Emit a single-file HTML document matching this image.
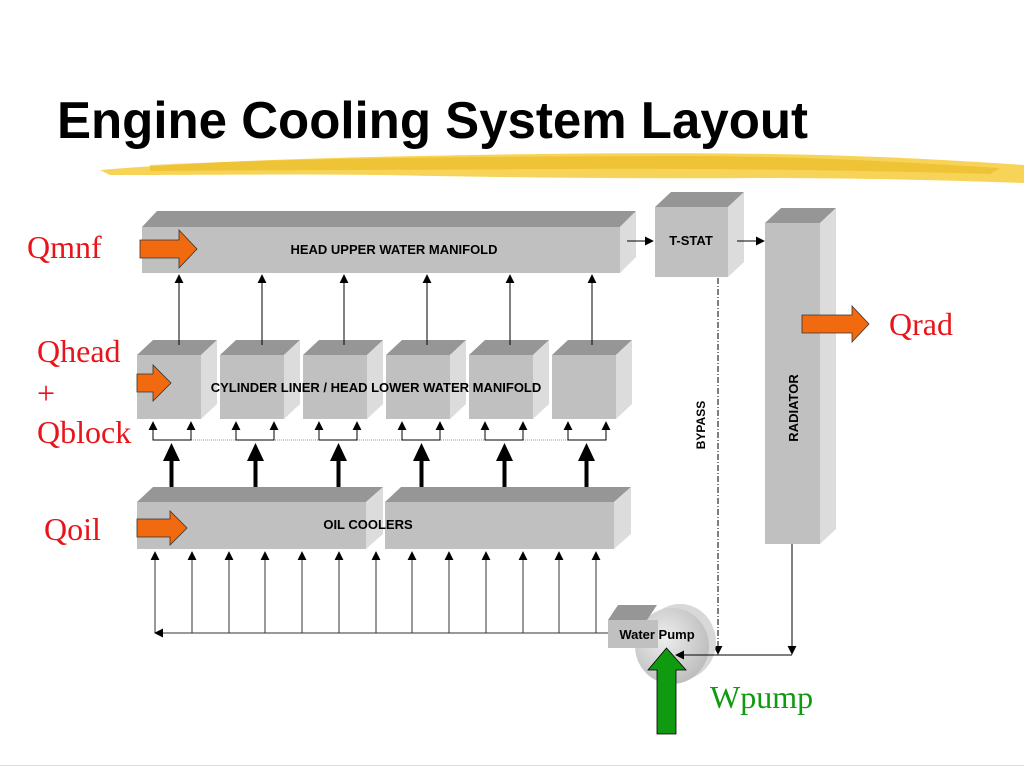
<!DOCTYPE html>
<html><head><meta charset="utf-8"><style>
html,body{margin:0;padding:0;background:#fff;}
svg{display:block;}
.b{font-family:"Liberation Sans",Arial,sans-serif;font-weight:bold;fill:#000;}
.r{font-family:"Liberation Serif","Times New Roman",serif;fill:#e8141a;font-size:32px;}
</style></head><body>
<svg width="1024" height="768" viewBox="0 0 1024 768" xmlns="http://www.w3.org/2000/svg">
<defs>
<marker id="ah" viewBox="0 0 10 10" refX="9" refY="5" markerWidth="9" markerHeight="9" markerUnits="userSpaceOnUse" orient="auto"><path d="M0,0 L10,5 L0,10 z" fill="#000"/></marker>
<radialGradient id="pg" cx="0.4" cy="0.4" r="0.7"><stop offset="0" stop-color="#eeeeee"/><stop offset="1" stop-color="#b8b8b8"/></radialGradient>
</defs>
<text x="57" y="138" class="b" font-size="52" textLength="751" lengthAdjust="spacingAndGlyphs">Engine Cooling System Layout</text>
<!-- brush stroke -->
<g>
<path d="M100,170 C200,162 300,158 420,156 C560,153 700,152 820,155 C900,157 980,162 1024,165 L1024,183 C940,180 860,178 760,178 C620,179 480,177 380,175 C280,174 180,175 110,175 Z" fill="#f6cd3a" opacity="0.85"/>
<path d="M150,165 C300,158 500,156 700,156 C820,157 900,162 1000,168 L990,174 C850,170 700,168 550,169 C400,170 260,170 150,171 Z" fill="#eab820" opacity="0.6"/>
</g>
<!-- head upper manifold -->
<polygon points="142,227 157,211 636,211 620,227" fill="#969696"/>
<polygon points="620,227 636,211 636,257 620,273" fill="#dcdcdc"/>
<rect x="142" y="227" width="478" height="46" fill="#c0c0c0"/>
<text x="394" y="254" class="b" font-size="13" text-anchor="middle">HEAD UPPER WATER MANIFOLD</text>
<!-- cylinder blocks -->
<g>
<g id="cb"><polygon points="137,355 153,340 217,340 201,355" fill="#969696"/><polygon points="201,355 217,340 217,404 201,419" fill="#dcdcdc"/><rect x="137" y="355" width="64" height="64" fill="#c0c0c0"/></g>
<use href="#cb" x="83"/><use href="#cb" x="166"/><use href="#cb" x="249"/><use href="#cb" x="332"/><use href="#cb" x="415"/>
</g>
<text x="376" y="392" class="b" font-size="13" text-anchor="middle">CYLINDER LINER / HEAD LOWER WATER MANIFOLD</text>
<g stroke="#000" stroke-width="1" marker-end="url(#ah)">
<line x1="179" y1="345" x2="179" y2="275"/><line x1="262" y1="345" x2="262" y2="275"/><line x1="344" y1="345" x2="344" y2="275"/><line x1="427" y1="345" x2="427" y2="275"/><line x1="510" y1="345" x2="510" y2="275"/><line x1="592" y1="345" x2="592" y2="275"/>
</g>
<line x1="153" y1="440" x2="604" y2="440" stroke="#999" stroke-width="1" stroke-dasharray="1,1"/>
<g id="br" stroke="#000" stroke-width="1">
<polyline points="153,422 153,440 191,440 191,422" fill="none"/>
<line x1="153" y1="430" x2="153" y2="422" marker-end="url(#ah)"/>
<line x1="191" y1="430" x2="191" y2="422" marker-end="url(#ah)"/>
</g>
<use href="#br" x="83"/><use href="#br" x="166"/><use href="#br" x="249"/><use href="#br" x="332"/><use href="#br" x="415"/>
<g id="ta"><rect x="169.5" y="458" width="4" height="38" fill="#000"/><polygon points="163,461 171.5,443 180,461" fill="#000"/></g>
<use href="#ta" x="84"/><use href="#ta" x="167"/><use href="#ta" x="250"/><use href="#ta" x="333"/><use href="#ta" x="415"/>
<!-- oil coolers -->
<polygon points="137,502 153,487 383,487 366,502" fill="#969696"/>
<polygon points="366,502 383,487 383,534 366,549" fill="#dcdcdc"/>
<rect x="137" y="502" width="229" height="47" fill="#c0c0c0"/>
<polygon points="385,502 401,487 631,487 614,502" fill="#969696"/>
<polygon points="614,502 631,487 631,534 614,549" fill="#dcdcdc"/>
<rect x="385" y="502" width="229" height="47" fill="#c0c0c0"/>
<text x="368" y="529" class="b" font-size="13" text-anchor="middle">OIL COOLERS</text>
<g stroke="#333" stroke-width="1" marker-end="url(#ah)">
<line x1="155" y1="633" x2="155" y2="552"/><line x1="192" y1="633" x2="192" y2="552"/><line x1="229" y1="633" x2="229" y2="552"/><line x1="265" y1="633" x2="265" y2="552"/><line x1="302" y1="633" x2="302" y2="552"/><line x1="339" y1="633" x2="339" y2="552"/><line x1="376" y1="633" x2="376" y2="552"/><line x1="412" y1="633" x2="412" y2="552"/><line x1="449" y1="633" x2="449" y2="552"/><line x1="486" y1="633" x2="486" y2="552"/><line x1="523" y1="633" x2="523" y2="552"/><line x1="559" y1="633" x2="559" y2="552"/><line x1="596" y1="633" x2="596" y2="552"/>
<line x1="608" y1="633" x2="155" y2="633"/>
</g>
<!-- T-STAT -->
<polygon points="655,207 671,192 744,192 728,207" fill="#969696"/>
<polygon points="728,207 744,192 744,262 728,277" fill="#dcdcdc"/>
<rect x="655" y="207" width="73" height="70" fill="#c0c0c0"/>
<text x="691" y="245" class="b" font-size="13" text-anchor="middle">T-STAT</text>
<g stroke="#000" stroke-width="1" marker-end="url(#ah)">
<line x1="627" y1="241" x2="653" y2="241"/><line x1="737" y1="241" x2="764" y2="241"/>
</g>
<!-- radiator -->
<polygon points="765,223 781,208 836,208 820,223" fill="#969696"/>
<polygon points="820,223 836,208 836,529 820,544" fill="#dcdcdc"/>
<rect x="765" y="223" width="55" height="321" fill="#c0c0c0"/>
<text transform="translate(798,408) rotate(-90)" class="b" font-size="13" text-anchor="middle">RADIATOR</text>
<line x1="718" y1="278" x2="718" y2="654" stroke="#000" stroke-width="1" stroke-dasharray="6,2,1,2" marker-end="url(#ah)"/>
<text transform="translate(705,425) rotate(-90)" class="b" font-size="12" text-anchor="middle">BYPASS</text>
<line x1="792" y1="544" x2="792" y2="654" stroke="#000" stroke-width="1" marker-end="url(#ah)"/>
<!-- water pump -->
<ellipse cx="680" cy="642" rx="36" ry="38" fill="#d8d8d8"/>
<ellipse cx="672" cy="646" rx="37" ry="38" fill="url(#pg)"/>
<polygon points="608,620 618,605 657,605 647,620" fill="#969696"/>
<rect x="608" y="620" width="50" height="28" fill="#c0c0c0"/>
<text x="657" y="639" class="b" font-size="13" text-anchor="middle">Water Pump</text>
<line x1="792" y1="655" x2="676" y2="655" stroke="#000" stroke-width="1" marker-end="url(#ah)"/>
<polygon points="657,734 676,734 676,670 686,670 666.5,648 648,670 657,670" fill="#109a10" stroke="#000" stroke-width="0.8"/>
<!-- orange arrows -->
<polygon points="140,240 179,240 179,230 197,249 179,268 179,258 140,258" fill="#f26a10" stroke="#333" stroke-width="0.8"/>
<polygon points="137,374 153,374 153,365 171,383 153,401 153,392 137,392" fill="#f26a10" stroke="#333" stroke-width="0.8"/>
<polygon points="137,519 170,519 170,511 187,528 170,545 170,537 137,537" fill="#f26a10" stroke="#333" stroke-width="0.8"/>
<polygon points="802,315 852,315 852,306 869,324 852,342 852,333 802,333" fill="#f26a10" stroke="#333" stroke-width="0.8"/>
<!-- labels -->
<text x="27" y="258" class="r">Qmnf</text>
<text x="37" y="362" class="r">Qhead</text>
<text x="37" y="404" class="r">+</text>
<text x="37" y="443" class="r">Qblock</text>
<text x="44" y="540" class="r">Qoil</text>
<text x="889" y="335" class="r">Qrad</text>
<text x="710" y="708" class="r" style="fill:#109a10">Wpump</text>
<line x1="0" y1="765.5" x2="1024" y2="765.5" stroke="#ddd" stroke-width="1"/>
</svg>
</body></html>
